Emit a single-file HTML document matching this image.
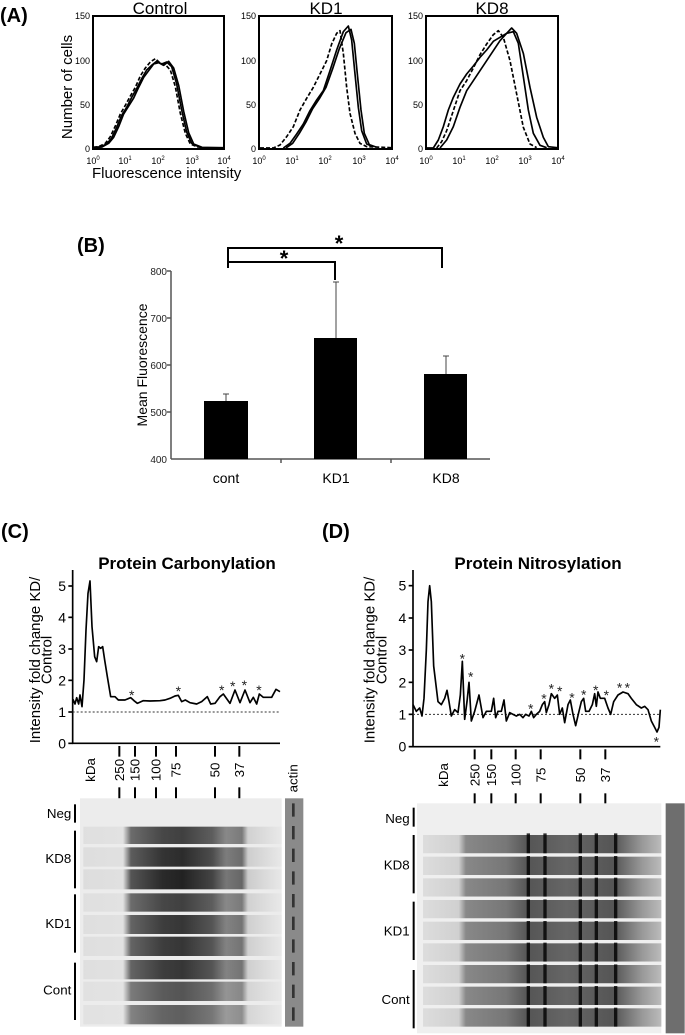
<!DOCTYPE html>
<html><head><meta charset="utf-8">
<style>
html,body{margin:0;padding:0;background:#fff;}
svg{display:block;font-family:"Liberation Sans",Arial,sans-serif;}
</style></head>
<body>
<svg width="685" height="1035" viewBox="0 0 685 1035" xmlns="http://www.w3.org/2000/svg">
<defs>
<linearGradient id="gc" x1="0" x2="1" y1="0" y2="0">
<stop offset="0" stop-color="#ddd"/>
<stop offset="0.2" stop-color="#e0e0e0"/>
<stop offset="0.24" stop-color="#555"/>
<stop offset="0.4" stop-color="#2a2a2a"/>
<stop offset="0.5" stop-color="#222"/>
<stop offset="0.65" stop-color="#444"/>
<stop offset="0.72" stop-color="#777"/>
<stop offset="0.8" stop-color="#666"/>
<stop offset="0.83" stop-color="#ccc"/>
<stop offset="1" stop-color="#e8e8e8"/>
</linearGradient>
<linearGradient id="gd" x1="0" x2="1" y1="0" y2="0">
<stop offset="0" stop-color="#ddd"/>
<stop offset="0.15" stop-color="#d0d0d0"/>
<stop offset="0.18" stop-color="#888"/>
<stop offset="0.35" stop-color="#777"/>
<stop offset="0.44" stop-color="#555"/>
<stop offset="0.6" stop-color="#666"/>
<stop offset="0.8" stop-color="#555"/>
<stop offset="0.92" stop-color="#999"/>
<stop offset="1" stop-color="#bbb"/>
</linearGradient>
</defs>

<!-- Panel A -->
<text x="0" y="22" font-size="20" font-weight="bold">(A)</text>
<text x="160" y="14" font-size="17" text-anchor="middle">Control</text>
<text x="326" y="14" font-size="17" text-anchor="middle">KD1</text>
<text x="492" y="14" font-size="17" text-anchor="middle">KD8</text>
<g fill="none" stroke="#000" stroke-width="2">
<rect x="93" y="16" width="131" height="133"/>
<rect x="259" y="16" width="133" height="133"/>
<rect x="426" y="16" width="132" height="133"/>
</g>
<g font-size="9" text-anchor="end">
<text x="90" y="19">150</text><text x="90" y="64">100</text><text x="90" y="108">50</text><text x="90" y="152">0</text>
<text x="256" y="19">150</text><text x="256" y="64">100</text><text x="256" y="108">50</text><text x="256" y="152">0</text>
<text x="423" y="19">150</text><text x="423" y="64">100</text><text x="423" y="108">50</text><text x="423" y="152">0</text>
</g>
<g font-size="9" text-anchor="middle">
<text x="93" y="164">10<tspan font-size="6" dy="-4">0</tspan></text>
<text x="125" y="164">10<tspan font-size="6" dy="-4">1</tspan></text>
<text x="158" y="164">10<tspan font-size="6" dy="-4">2</tspan></text>
<text x="192" y="164">10<tspan font-size="6" dy="-4">3</tspan></text>
<text x="224" y="164">10<tspan font-size="6" dy="-4">4</tspan></text>
<text x="259" y="164">10<tspan font-size="6" dy="-4">0</tspan></text>
<text x="292" y="164">10<tspan font-size="6" dy="-4">1</tspan></text>
<text x="325" y="164">10<tspan font-size="6" dy="-4">2</tspan></text>
<text x="359" y="164">10<tspan font-size="6" dy="-4">3</tspan></text>
<text x="392" y="164">10<tspan font-size="6" dy="-4">4</tspan></text>
<text x="426" y="164">10<tspan font-size="6" dy="-4">0</tspan></text>
<text x="459" y="164">10<tspan font-size="6" dy="-4">1</tspan></text>
<text x="492" y="164">10<tspan font-size="6" dy="-4">2</tspan></text>
<text x="525" y="164">10<tspan font-size="6" dy="-4">3</tspan></text>
<text x="558" y="164">10<tspan font-size="6" dy="-4">4</tspan></text>
</g>
<text transform="translate(72,87) rotate(-90)" font-size="15" text-anchor="middle">Number of cells</text>
<text x="92" y="178" font-size="15">Fluorescence intensity</text>
<g transform="scale(0.33333)" fill="none" stroke="#000" stroke-width="5" stroke-linejoin="round">
<path d="M280,442 L300,441 L320,432 L335,414 L350,382 L365,346 L380,322 L395,292 L410,266 L425,236 L440,210 L455,196 L470,184 L485,192 L500,186 L515,200 L530,252 L545,330 L560,396 L575,430 L600,442 L670,443"/>
<path d="M280,442 L306,441 L326,430 L341,412 L356,380 L371,342 L386,318 L401,294 L416,262 L431,232 L446,212 L461,192 L476,188 L491,196 L506,184 L521,204 L536,256 L551,334 L566,398 L581,432 L606,442"/>
<path d="M280,442 L296,440 L316,430 L331,410 L346,378 L361,342 L376,316 L391,288 L406,262 L421,228 L436,204 L451,186 L466,176 L481,190 L496,194 L511,210 L526,260 L541,340 L556,400 L571,432 L596,442" stroke-dasharray="12,6"/>
<path d="M780,444 L820,444 L840,435 L860,410 L880,380 L900,330 L920,295 L940,262 L960,222 L980,182 L995,132 L1010,100 L1020,92 L1030,160 L1040,262 L1050,340 L1065,400 L1080,430 L1100,440 L1173,443" stroke-dasharray="12,6"/>
<path d="M850,444 L870,430 L890,402 L910,372 L930,332 L950,300 L970,272 L990,212 L1010,150 L1030,95 L1045,78 L1055,120 L1065,222 L1075,322 L1085,392 L1100,432 L1120,440"/>
<path d="M858,444 L878,430 L898,400 L918,366 L938,326 L958,296 L978,262 L998,206 L1018,146 L1038,98 L1053,88 L1063,130 L1073,232 L1083,330 L1093,400 L1108,434 L1128,441"/>
<path d="M1280,444 L1300,444 L1315,420 L1330,380 L1345,330 L1360,292 L1380,252 L1400,222 L1420,198 L1440,172 L1460,150 L1480,124 L1500,112 L1520,100 L1535,84 L1550,100 L1570,160 L1590,262 L1610,352 L1630,412 L1645,440 L1672,443"/>
<path d="M1320,444 L1340,420 L1360,380 L1380,322 L1400,272 L1420,242 L1440,212 L1460,182 L1480,152 L1500,122 L1520,100 L1540,95 L1555,130 L1570,230 L1585,330 L1600,400 L1620,436 L1640,443"/>
<path d="M1310,444 L1325,425 L1340,392 L1360,332 L1380,272 L1400,242 L1420,204 L1440,164 L1460,132 L1480,104 L1495,92 L1510,112 L1530,182 L1550,282 L1570,382 L1590,432 L1610,443" stroke-dasharray="12,6"/>
</g>

<!-- Panel B -->
<text x="77" y="252" font-size="20" font-weight="bold">(B)</text>
<g stroke="#555" stroke-width="1.5" fill="none">
<line x1="171" y1="271" x2="171" y2="459"/>
<line x1="171" y1="459" x2="490" y2="459"/>
<line x1="281" y1="459" x2="281" y2="463"/>
<line x1="391" y1="459" x2="391" y2="463"/>
<line x1="167" y1="271" x2="171" y2="271"/><line x1="167" y1="318" x2="171" y2="318"/>
<line x1="167" y1="365" x2="171" y2="365"/><line x1="167" y1="412" x2="171" y2="412"/>
</g>
<g font-size="10" text-anchor="end" fill="#222">
<text x="167" y="275">800</text><text x="167" y="322">700</text><text x="167" y="369">600</text><text x="167" y="416">500</text><text x="167" y="463">400</text>
</g>
<text transform="translate(147,365) rotate(-90)" font-size="14" text-anchor="middle">Mean Fluorescence</text>
<g fill="#000">
<rect x="204" y="401" width="44" height="58"/>
<rect x="314" y="338" width="43" height="121"/>
<rect x="424" y="374" width="43" height="85"/>
</g>
<g stroke="#444" stroke-width="1">
<line x1="226" y1="394" x2="226" y2="401"/><line x1="223" y1="394" x2="229" y2="394"/>
<line x1="336" y1="282" x2="336" y2="338"/><line x1="333" y1="282" x2="339" y2="282"/>
<line x1="446" y1="356" x2="446" y2="374"/><line x1="443" y1="356" x2="449" y2="356"/>
</g>
<g stroke="#000" stroke-width="2" fill="none">
<polyline points="228,268 228,248 442,248 442,268"/>
<polyline points="228,268 228,262 335,262 335,280"/>
</g>
<text x="284" y="266" font-size="22" font-weight="bold" text-anchor="middle">*</text>
<text x="339" y="251" font-size="22" font-weight="bold" text-anchor="middle">*</text>
<g font-size="14" text-anchor="middle">
<text x="226" y="483">cont</text><text x="336" y="483">KD1</text><text x="446" y="483">KD8</text>
</g>

<!-- Panel C -->
<text x="1" y="538" font-size="20" font-weight="bold">(C)</text>
<text x="187" y="569" font-size="17" font-weight="bold" text-anchor="middle">Protein Carbonylation</text>
<g transform="translate(0,560) scale(0.33333)">
<g stroke="#000" stroke-width="5" fill="none">
<line x1="218" y1="30" x2="218" y2="552"/>
<line x1="216" y1="550" x2="840" y2="550"/>
<line x1="205" y1="550" x2="218" y2="550"/><line x1="205" y1="456" x2="218" y2="456"/><line x1="205" y1="361" x2="218" y2="361"/>
<line x1="205" y1="267" x2="218" y2="267"/><line x1="205" y1="172" x2="218" y2="172"/><line x1="205" y1="78" x2="218" y2="78"/>
</g>
<line x1="218" y1="456" x2="840" y2="456" stroke="#333" stroke-width="3" stroke-dasharray="6,6"/>
<g font-size="42" text-anchor="end">
<text x="198" y="565">0</text><text x="198" y="471">1</text><text x="198" y="376">2</text><text x="198" y="282">3</text><text x="198" y="187">4</text><text x="198" y="93">5</text>
</g>
<text transform="translate(120,300) rotate(-90)" font-size="45" text-anchor="middle">Intensity fold change KD/</text>
<text transform="translate(155,300) rotate(-90)" font-size="45" text-anchor="middle">Control</text>
<path fill="none" stroke="#000" stroke-width="5" stroke-linejoin="round" d="M219,418 L225,432 L230,413 L236,432 L240,405 L246,440 L252,360 L258,210 L264,100 L270,63 L276,200 L284,290 L290,305 L296,260 L302,265 L308,260 L314,300 L322,350 L332,410 L345,410 L355,420 L375,420 L392,413 L402,422 L412,430 L430,422 L450,423 L480,422 L495,420 L510,415 L525,408 L535,406 L545,425 L556,420 L570,428 L590,432 L605,425 L622,410 L632,432 L645,430 L660,410 L670,402 L690,430 L705,390 L720,428 L735,390 L750,428 L760,412 L770,432 L778,402 L790,412 L815,412 L828,388 L840,395"/>
<g font-size="42" text-anchor="middle" fill="#222">
<text x="395" y="420">*</text><text x="535" y="408">*</text><text x="665" y="405">*</text><text x="698" y="393">*</text><text x="733" y="390">*</text><text x="777" y="405">*</text>
</g>
<g stroke="#000" stroke-width="6">
<line x1="358" y1="558" x2="358" y2="590"/><line x1="405" y1="558" x2="405" y2="590"/><line x1="468" y1="558" x2="468" y2="590"/>
<line x1="528" y1="558" x2="528" y2="590"/><line x1="645" y1="558" x2="645" y2="590"/><line x1="718" y1="558" x2="718" y2="590"/>
<line x1="358" y1="682" x2="358" y2="715"/><line x1="405" y1="682" x2="405" y2="715"/><line x1="468" y1="682" x2="468" y2="715"/>
<line x1="528" y1="682" x2="528" y2="715"/><line x1="645" y1="682" x2="645" y2="715"/><line x1="718" y1="682" x2="718" y2="715"/>
</g>
<g font-size="40" text-anchor="middle">
<text transform="translate(285,630) rotate(-90)">kDa</text>
<text transform="translate(372,630) rotate(-90)">250</text>
<text transform="translate(419,630) rotate(-90)">150</text>
<text transform="translate(482,630) rotate(-90)">100</text>
<text transform="translate(542,630) rotate(-90)">75</text>
<text transform="translate(659,630) rotate(-90)">50</text>
<text transform="translate(732,630) rotate(-90)">37</text>
<text transform="translate(893,655) rotate(-90)">actin</text>
</g>
<rect x="240" y="715" width="605" height="685" fill="#ececec"/>
<g fill="url(#gc)">
<rect x="250" y="800" width="595" height="52" opacity="0.85"/>
<rect x="250" y="862" width="595" height="58" opacity="0.95"/>
<rect x="250" y="928" width="595" height="60"/>
<rect x="250" y="1000" width="595" height="55" opacity="0.85"/>
<rect x="250" y="1065" width="595" height="57" opacity="0.9"/>
<rect x="250" y="1130" width="595" height="58" opacity="0.9"/>
<rect x="250" y="1200" width="595" height="58" opacity="0.9"/>
<rect x="250" y="1265" width="595" height="58" opacity="0.75"/>
<rect x="250" y="1335" width="595" height="58" opacity="0.7"/>
</g>
<rect x="855" y="715" width="55" height="685" fill="#8a8a8a"/>
<g stroke="#333" stroke-width="8">
<line x1="880" y1="730" x2="880" y2="1390" stroke-dasharray="40,28"/>
</g>
<g stroke="#000" stroke-width="6">
<line x1="225" y1="733" x2="225" y2="788"/><line x1="225" y1="812" x2="225" y2="985"/>
<line x1="225" y1="1003" x2="225" y2="1178"/><line x1="225" y1="1208" x2="225" y2="1380"/>
</g>
<g font-size="40" text-anchor="end">
<text x="214" y="774">Neg</text><text x="214" y="909">KD8</text><text x="214" y="1104">KD1</text><text x="214" y="1304">Cont</text>
</g>
</g>

<!-- Panel D -->
<text x="322" y="538" font-size="20" font-weight="bold">(D)</text>
<text x="538" y="569" font-size="17" font-weight="bold" text-anchor="middle">Protein Nitrosylation</text>
<g transform="translate(343,560) scale(0.33333)">
<g stroke="#000" stroke-width="5" fill="none">
<line x1="210" y1="30" x2="210" y2="562"/>
<line x1="208" y1="560" x2="952" y2="560"/>
<line x1="197" y1="560" x2="210" y2="560"/><line x1="197" y1="463" x2="210" y2="463"/><line x1="197" y1="367" x2="210" y2="367"/>
<line x1="197" y1="270" x2="210" y2="270"/><line x1="197" y1="174" x2="210" y2="174"/><line x1="197" y1="77" x2="210" y2="77"/>
</g>
<line x1="210" y1="463" x2="952" y2="463" stroke="#333" stroke-width="3" stroke-dasharray="6,6"/>
<g font-size="42" text-anchor="end">
<text x="190" y="575">0</text><text x="190" y="478">1</text><text x="190" y="382">2</text><text x="190" y="285">3</text><text x="190" y="189">4</text><text x="190" y="92">5</text>
</g>
<text transform="translate(95,300) rotate(-90)" font-size="45" text-anchor="middle">Intensity fold change KD/</text>
<text transform="translate(130,300) rotate(-90)" font-size="45" text-anchor="middle">Control</text>
<path fill="none" stroke="#000" stroke-width="5" stroke-linejoin="round" d="M210,434 L220,454 L230,444 L237,468 L243,415 L250,270 L255,125 L260,77 L265,125 L272,318 L285,425 L295,434 L305,415 L312,391 L318,425 L325,468 L335,449 L345,458 L352,405 L358,304 L365,478 L372,425 L378,367 L385,483 L395,454 L408,405 L420,473 L430,454 L445,454 L452,415 L458,473 L465,454 L475,454 L483,420 L490,483 L500,458 L510,463 L520,468 L530,463 L540,473 L548,463 L558,468 L565,454 L572,473 L580,463 L590,454 L598,434 L605,425 L610,458 L618,434 L625,401 L635,415 L643,405 L650,463 L658,444 L665,488 L675,434 L682,420 L690,463 L698,497 L708,454 L715,425 L722,415 L728,454 L738,454 L748,434 L755,401 L760,439 L765,396 L772,415 L785,415 L795,444 L803,463 L812,425 L825,405 L840,396 L855,401 L865,415 L880,434 L895,444 L905,439 L915,449 L925,483 L935,502 L942,516 L948,502 L952,449"/>
<g font-size="42" text-anchor="middle" fill="#222">
<text x="358" y="310">*</text><text x="383" y="365">*</text><text x="563" y="460">*</text><text x="603" y="430">*</text><text x="625" y="400">*</text><text x="650" y="408">*</text><text x="687" y="428">*</text><text x="722" y="418">*</text><text x="758" y="405">*</text><text x="790" y="420">*</text><text x="830" y="398">*</text><text x="853" y="398">*</text><text x="940" y="560">*</text>
</g>
<g stroke="#000" stroke-width="6">
<line x1="395" y1="568" x2="395" y2="598"/><line x1="445" y1="568" x2="445" y2="598"/><line x1="518" y1="568" x2="518" y2="598"/>
<line x1="593" y1="568" x2="593" y2="598"/><line x1="712" y1="568" x2="712" y2="598"/><line x1="787" y1="568" x2="787" y2="598"/>
<line x1="395" y1="700" x2="395" y2="735"/><line x1="445" y1="700" x2="445" y2="735"/><line x1="518" y1="700" x2="518" y2="735"/>
<line x1="593" y1="700" x2="593" y2="735"/><line x1="712" y1="700" x2="712" y2="735"/><line x1="787" y1="700" x2="787" y2="735"/>
</g>
<g font-size="40" text-anchor="middle">
<text transform="translate(315,645) rotate(-90)">kDa</text>
<text transform="translate(409,645) rotate(-90)">250</text>
<text transform="translate(459,645) rotate(-90)">150</text>
<text transform="translate(532,645) rotate(-90)">100</text>
<text transform="translate(607,645) rotate(-90)">75</text>
<text transform="translate(726,645) rotate(-90)">50</text>
<text transform="translate(801,645) rotate(-90)">37</text>
</g>
<rect x="222" y="730" width="733" height="690" fill="#efefef"/>
<g fill="url(#gd)">
<rect x="240" y="825" width="715" height="55"/>
<rect x="240" y="890" width="715" height="55"/>
<rect x="240" y="955" width="715" height="55"/>
<rect x="240" y="1020" width="715" height="55"/>
<rect x="240" y="1085" width="715" height="55"/>
<rect x="240" y="1150" width="715" height="55"/>
<rect x="240" y="1215" width="715" height="55"/>
<rect x="240" y="1280" width="715" height="55"/>
<rect x="240" y="1345" width="715" height="55"/>
</g>
<g stroke="#000" stroke-width="10" opacity="0.8">
<line x1="556" y1="820" x2="556" y2="1400"/><line x1="606" y1="820" x2="606" y2="1400"/>
<line x1="712" y1="820" x2="712" y2="1400"/><line x1="760" y1="820" x2="760" y2="1400"/><line x1="818" y1="820" x2="818" y2="1400"/>
</g>
<g stroke="#efefef" stroke-width="8">
<line x1="222" y1="884" x2="955" y2="884"/><line x1="222" y1="949" x2="955" y2="949"/><line x1="222" y1="1014" x2="955" y2="1014"/>
<line x1="222" y1="1079" x2="955" y2="1079"/><line x1="222" y1="1144" x2="955" y2="1144"/><line x1="222" y1="1209" x2="955" y2="1209"/>
<line x1="222" y1="1274" x2="955" y2="1274"/><line x1="222" y1="1339" x2="955" y2="1339"/>
</g>
<rect x="968" y="730" width="57" height="690" fill="#6e6e6e"/>
<g stroke="#000" stroke-width="6">
<line x1="212" y1="743" x2="212" y2="800"/><line x1="212" y1="825" x2="212" y2="1000"/>
<line x1="212" y1="1025" x2="212" y2="1200"/><line x1="212" y1="1230" x2="212" y2="1405"/>
</g>
<g font-size="40" text-anchor="end">
<text x="200" y="789">Neg</text><text x="200" y="929">KD8</text><text x="200" y="1126">KD1</text><text x="200" y="1332">Cont</text>
</g>
</g>
</svg>
</body></html>
